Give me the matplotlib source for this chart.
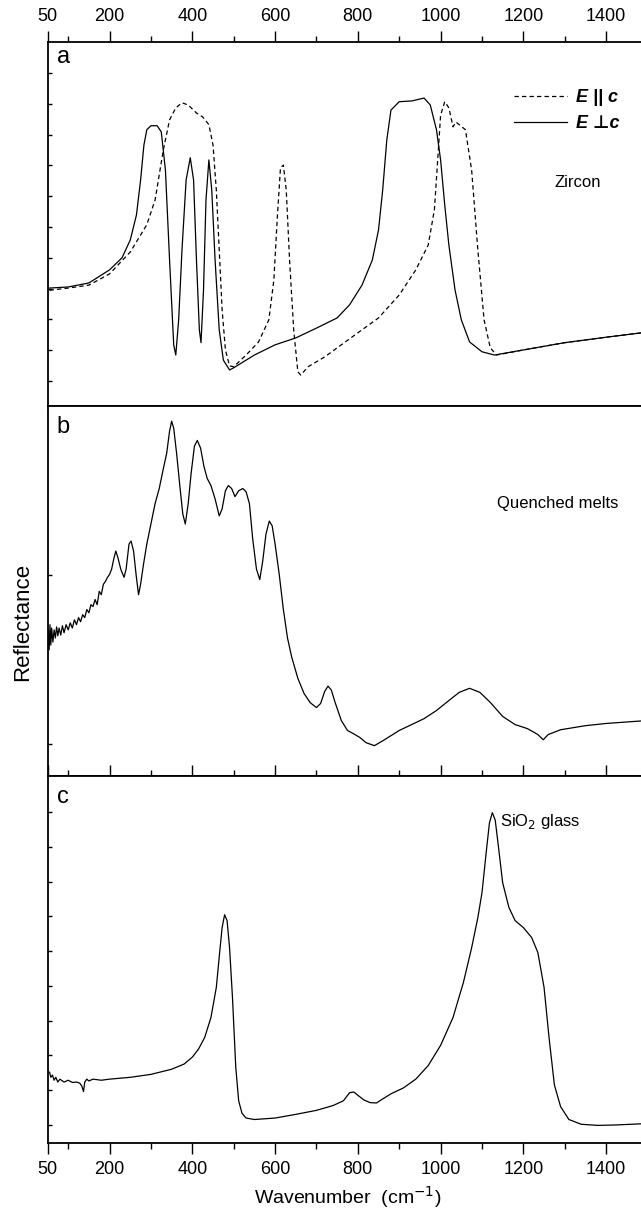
import numpy as np
import matplotlib
matplotlib.use("Agg")
import matplotlib.pyplot as plt
from matplotlib.lines import Line2D

plt.rcParams['font.family'] = ['Liberation Sans', 'DejaVu Sans']

# ---------------- data (reflectance in arbitrary units) ----------------
# Panel a: zircon, E perpendicular c (solid)
za_perp_x = [55, 100, 150, 200, 230, 250, 265, 275, 283, 290, 300, 315, 325, 335, 345, 355, 360,
             367, 375, 385, 395, 403, 410, 417, 421, 427, 433, 440, 447, 455, 465, 475, 490, 500,
             550, 600, 650, 700, 750, 780, 810, 835, 850, 860, 870, 880, 900, 930, 960, 975, 990,
             1000, 1010, 1020, 1035, 1050, 1070, 1100, 1130, 1200, 1300, 1400, 1500]
za_perp_y = [0.324, 0.327, 0.338, 0.374, 0.407, 0.456, 0.525, 0.621, 0.717, 0.759, 0.770, 0.770,
             0.753, 0.648, 0.401, 0.168, 0.140, 0.237, 0.429, 0.621, 0.682, 0.621, 0.401, 0.209,
             0.174, 0.318, 0.566, 0.676, 0.593, 0.401, 0.209, 0.126, 0.099, 0.105, 0.140, 0.168,
             0.187, 0.214, 0.242, 0.278, 0.332, 0.401, 0.484, 0.593, 0.731, 0.813, 0.836, 0.838,
             0.846, 0.827, 0.759, 0.676, 0.552, 0.442, 0.318, 0.237, 0.176, 0.149, 0.140, 0.154,
             0.174, 0.189, 0.203]
# Panel a: zircon, E parallel c (dashed)
za_par_x = [55, 100, 150, 200, 250, 290, 310, 330, 345, 360, 375, 390, 410, 425, 440, 450, 458,
            465, 472, 480, 490, 500, 530, 560, 585, 597, 605, 613, 620, 627, 635, 645, 655, 662,
            680, 720, 760, 800, 850, 900, 940, 970, 985, 993, 1000, 1010, 1020, 1030, 1037, 1045,
            1060, 1075, 1090, 1105, 1120, 1135, 1200, 1300, 1400, 1500]
za_par_y = [0.318, 0.324, 0.332, 0.363, 0.423, 0.498, 0.566, 0.704, 0.786, 0.819, 0.833, 0.827,
            0.805, 0.794, 0.773, 0.717, 0.593, 0.429, 0.264, 0.154, 0.110, 0.108, 0.140, 0.176,
            0.237, 0.346, 0.511, 0.654, 0.662, 0.593, 0.401, 0.209, 0.094, 0.085, 0.108, 0.135,
            0.168, 0.201, 0.242, 0.305, 0.374, 0.442, 0.539, 0.676, 0.799, 0.836, 0.819, 0.767,
            0.780, 0.773, 0.759, 0.648, 0.429, 0.237, 0.160, 0.140, 0.154, 0.174, 0.189, 0.203]

# Panel b: quenched melts
qm_x = [52, 54, 56, 58, 60, 63, 66, 69, 72, 75, 78, 82, 86, 90, 95, 100, 105, 110, 115, 120,
        125, 130, 135, 140, 145, 150, 155, 160, 165, 170, 175, 180, 185, 190, 195, 200, 205, 210,
        215, 220, 227, 235, 240, 247, 252, 258, 264, 270, 275, 282, 290, 300, 310, 320, 330, 338,
        345, 350, 355, 362, 370, 377, 383, 390, 397, 405, 412, 420, 428, 436, 445, 455, 465, 472,
        480, 487, 495, 503, 512, 522, 530, 538, 546, 555, 563, 570, 578, 586, 593, 600, 610, 620,
        630, 640, 655, 670, 685, 700, 710, 720, 728, 736, 745, 760, 775, 790, 805, 820, 840, 860,
        880, 900, 930, 960, 990, 1020, 1045, 1070, 1095, 1120, 1150, 1180, 1210, 1235, 1248, 1260,
        1290, 1350, 1400, 1500]
qm_y = [0.395, 0.341, 0.409, 0.354, 0.400, 0.362, 0.395, 0.373, 0.403, 0.379, 0.400, 0.381,
        0.406, 0.387, 0.409, 0.395, 0.414, 0.400, 0.422, 0.409, 0.428, 0.417, 0.436, 0.428, 0.450,
        0.441, 0.463, 0.458, 0.477, 0.463, 0.499, 0.490, 0.518, 0.526, 0.537, 0.545, 0.559, 0.586,
        0.608, 0.591, 0.559, 0.537, 0.559, 0.627, 0.635, 0.608, 0.545, 0.490, 0.518, 0.572, 0.627,
        0.681, 0.736, 0.777, 0.831, 0.872, 0.932, 0.959, 0.940, 0.872, 0.782, 0.708, 0.681, 0.736,
        0.817, 0.891, 0.907, 0.886, 0.837, 0.804, 0.785, 0.749, 0.703, 0.722, 0.771, 0.785, 0.777,
        0.755, 0.771, 0.777, 0.768, 0.736, 0.640, 0.559, 0.531, 0.580, 0.654, 0.689, 0.676, 0.627,
        0.545, 0.450, 0.373, 0.322, 0.264, 0.223, 0.198, 0.185, 0.196, 0.229, 0.243, 0.232, 0.199,
        0.150, 0.123, 0.114, 0.104, 0.090, 0.082, 0.095, 0.109, 0.123, 0.139, 0.155, 0.177, 0.204,
        0.226, 0.237, 0.226, 0.199, 0.161, 0.139, 0.128, 0.112, 0.098, 0.112, 0.125, 0.136, 0.142,
        0.150]

# Panel c: SiO2 glass
sg_x = [55, 58, 62, 66, 70, 75, 80, 90, 100, 110, 120, 128, 133, 137, 140, 145, 150, 160, 180,
        200, 250, 300, 350, 380, 400, 415, 430, 445, 458, 466, 472, 478, 484, 490, 497, 505, 512,
        520, 530, 550, 575, 600, 650, 700, 740, 765, 780, 790, 800, 815, 830, 845, 860, 880, 910,
        940, 970, 1000, 1030, 1055, 1075, 1090, 1100, 1110, 1118, 1125, 1132, 1140, 1150, 1165,
        1180, 1200, 1220, 1235, 1250, 1262, 1275, 1290, 1310, 1340, 1380, 1420, 1500]
sg_y = [0.193, 0.179, 0.185, 0.171, 0.179, 0.166, 0.174, 0.166, 0.171, 0.165, 0.166, 0.163,
        0.155, 0.140, 0.166, 0.174, 0.169, 0.174, 0.171, 0.174, 0.179, 0.187, 0.201, 0.215, 0.234,
        0.256, 0.288, 0.342, 0.424, 0.519, 0.587, 0.622, 0.606, 0.532, 0.397, 0.206, 0.115, 0.081,
        0.068, 0.064, 0.066, 0.068, 0.078, 0.089, 0.102, 0.115, 0.137, 0.139, 0.130, 0.117, 0.110,
        0.109, 0.120, 0.134, 0.150, 0.174, 0.211, 0.266, 0.342, 0.437, 0.532, 0.614, 0.682, 0.790,
        0.872, 0.900, 0.880, 0.805, 0.709, 0.642, 0.606, 0.587, 0.560, 0.519, 0.424, 0.288, 0.158,
        0.099, 0.064, 0.051, 0.048, 0.049, 0.053]

xtick_vals = [50, 200, 400, 600, 800, 1000, 1200, 1400]
xtick_labels = ["50", "200", "400", "600", "800", "1000", "1200", "1400"]
xminor_vals = [100, 300, 500, 700, 900, 1100, 1300, 1500]
panel_letters = ["a", "b", "c"]
panel_names = ["Zircon", "Quenched melts", "SiO$_2$ glass"]

# ---------------- figure ----------------
W, H = 641, 1209
fig = plt.figure(figsize=(W / 100, H / 100), dpi=100)

left = 47.5 / W
width = 600.0 / W
bounds = [(42, 406), (406, 776), (776, 1143)]
axes = []
for (t, b) in bounds:
    ax = fig.add_axes([left, 1 - b / H, width, (b - t) / H])
    axes.append(ax)

ytick_sets = [
    np.linspace(0.0687, 0.915, 11),
    np.array([0.0865, 0.543]),
    np.linspace(0.049, 0.902, 10),
]

for i, ax in enumerate(axes):
    ax.set_xlim(50, 1500)
    ax.set_ylim(0, 1)
    for s in ax.spines.values():
        s.set_linewidth(1.3)
    ax.set_xticks(xtick_vals)
    ax.set_xticks(xminor_vals, minor=True)
    ax.set_yticks(ytick_sets[i])
    ax.tick_params(axis='y', which='both', direction='in', length=3, width=1.0,
                   left=True, right=False, labelleft=False)
    ax.text(0.015, [0.959, 0.943, 0.943][i], panel_letters[i], transform=ax.transAxes,
            fontsize=17, ha='left', va='center')

axa, axb, axc = axes
axa.tick_params(axis='x', which='major', top=True, bottom=True, labeltop=True, labelbottom=False,
                length=8, width=1.0, labelsize=13, pad=4)
axa.tick_params(axis='x', which='minor', top=True, bottom=True, length=4, width=1.0)
axa.tick_params(axis='x', which='both', direction='out')
for t in axa.xaxis.get_major_ticks() + axa.xaxis.get_minor_ticks():
    t.tick1line.set_marker(3)  # bottom ticks of panel a point upward
axa.set_xticklabels(xtick_labels)

axb.tick_params(axis='x', which='major', direction='in', top=False, bottom=True,
                labelbottom=False, length=8, width=1.0)
axb.tick_params(axis='x', which='minor', direction='in', top=False, bottom=True,
                length=4, width=1.0)

axc.tick_params(axis='x', which='major', direction='out', top=False, bottom=True,
                labelbottom=True, length=8, width=1.0, labelsize=13, pad=5)
axc.tick_params(axis='x', which='minor', direction='out', top=False, bottom=True,
                length=4, width=1.0)
axc.set_xticklabels(xtick_labels)
axc.set_xlabel("Wavenumber  (cm$^{-1}$)", fontsize=14, labelpad=4)

lw = 0.9
dash = (0, (3.5, 2.5))
axa.plot(za_par_x, za_par_y, color='black', lw=lw, ls=dash)
axa.plot(za_perp_x, za_perp_y, color='black', lw=lw)
axb.plot(qm_x, qm_y, color='black', lw=lw)
axc.plot(sg_x, sg_y, color='black', lw=lw)

handles = [Line2D([], [], color='black', lw=lw, ls=dash),
           Line2D([], [], color='black', lw=lw)]
labels = ["E || c", "E \u22a5c"]
axa.legend(handles, labels, loc='upper left', bbox_to_anchor=(0.778, 0.87),
           frameon=False, handlelength=2.9, handletextpad=0.5, labelspacing=0.5,
           borderpad=0, borderaxespad=0,
           prop={'size': 13, 'weight': 'bold', 'style': 'italic'})

axa.text(0.883, 0.613, panel_names[0], transform=axa.transAxes, fontsize=12, ha='center', va='center')
axb.text(0.85, 0.736, panel_names[1], transform=axb.transAxes, fontsize=12, ha='center', va='center')
axc.text(0.822, 0.875, panel_names[2], transform=axc.transAxes, fontsize=12, ha='center', va='center')

fig.text(23 / W, 1 - 622 / H, "Reflectance", rotation=90, fontsize=16, ha='center', va='center')

fig.savefig("out.png", dpi=100)
